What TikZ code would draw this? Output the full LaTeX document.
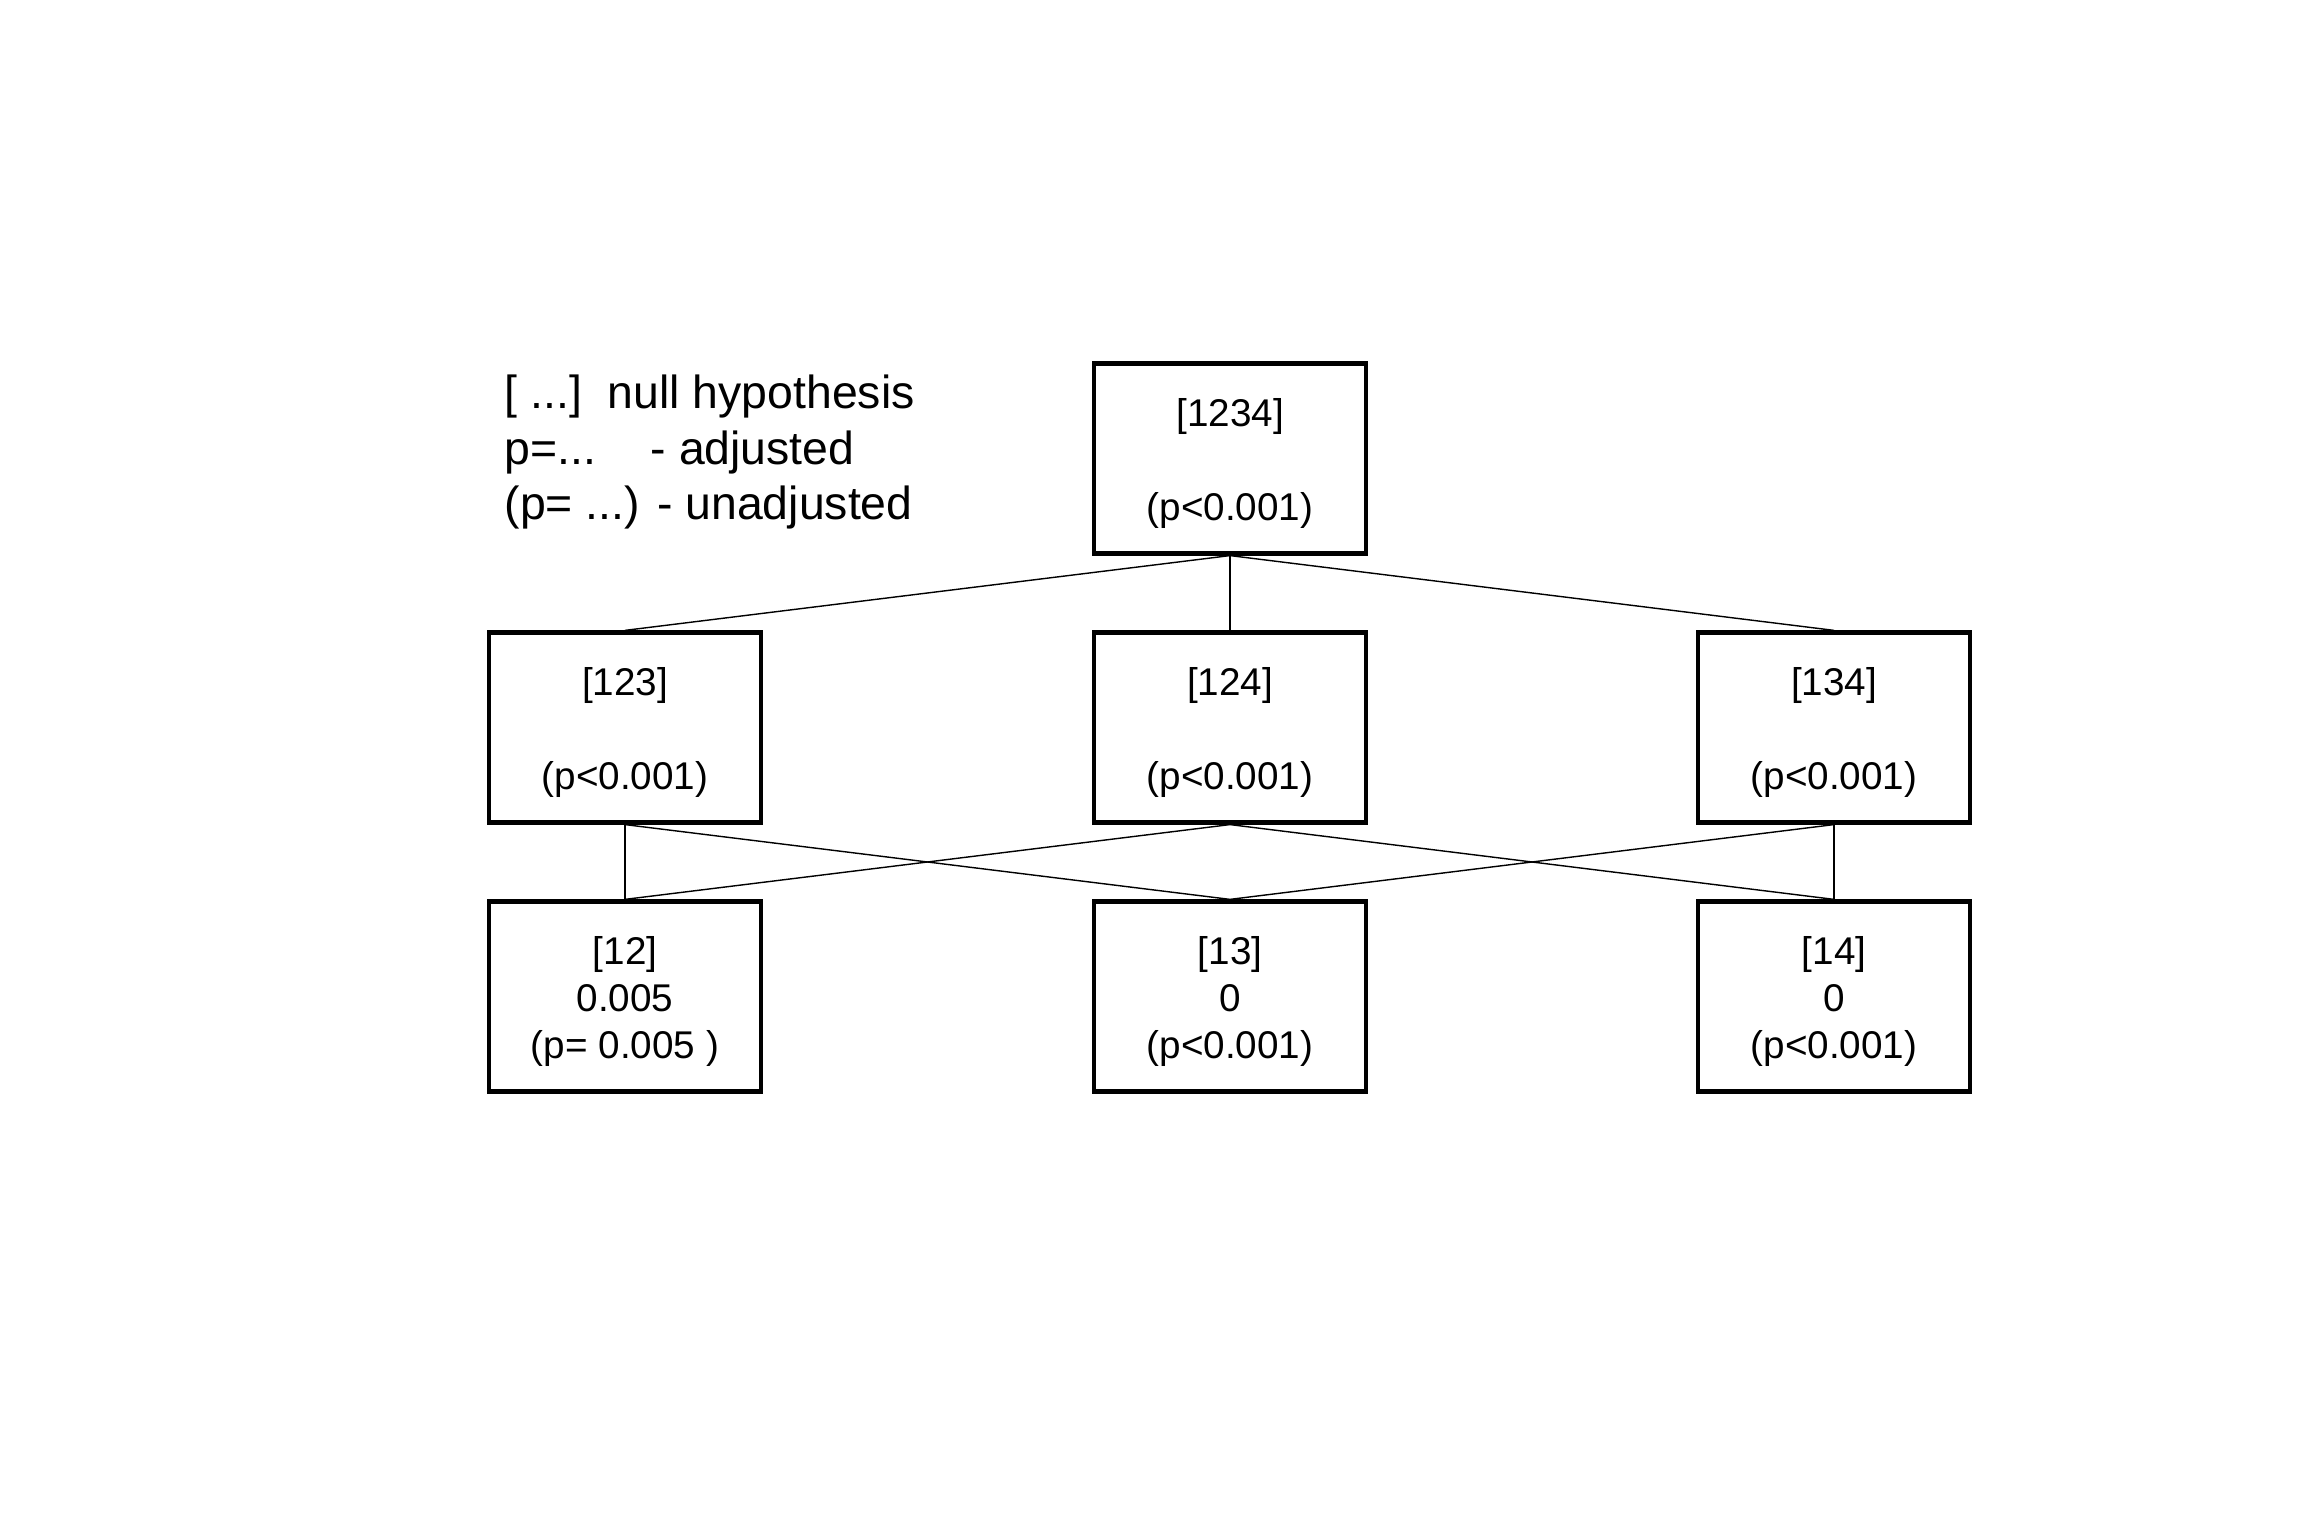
\documentclass[tikz,border=0pt]{standalone}
\usepackage{fontspec}
\setmainfont{Liberation Sans}
\usetikzlibrary{positioning}
% extra room above the first line of a hypothesis box
\newcommand{\toppad}{\rule{0pt}{3.8mm}}

\begin{document}
\begin{tikzpicture}[
    % hypothesis boxes of the closed testing tree
    hyp/.style={draw, rectangle, line width=1.2pt, align=center,
                minimum width=2.72cm, minimum height=1.90cm, inner sep=0pt,
                font=\fontsize{11}{13.5}\selectfont},
    % thin links between a hypothesis and the ones it implies
    link/.style={line width=0.4pt},
    legend/.style={anchor=base west, inner sep=0pt,
                   font=\fontsize{13.2}{16}\selectfont}
]

% page size and margins
\useasboundingbox[fill=white] (0,0) rectangle (23.04,15.36);

% Legend
\node[legend] (legnull) at (5.04, 11.27) {[ ...]~~null hypothesis};
\node[legend] (legadj) at (5.04, 10.71) {\makebox[1.46cm][l]{p=...}- adjusted};
\node[legend] (legunadj) at (5.04, 10.16) {(p= ...) - unadjusted};

% Top level
\node[hyp] (h1234) at (12.30, 10.775) {\toppad[1234]\\ ~ \\(p<0.001)};

% Second level
\node[hyp] (h123) at (6.25, 8.085) {\toppad[123]\\ ~ \\(p<0.001)};
\node[hyp] (h124) at (12.30, 8.085) {\toppad[124]\\ ~ \\(p<0.001)};
\node[hyp] (h134) at (18.34, 8.085) {\toppad[134]\\ ~ \\(p<0.001)};

% Third level
\node[hyp] (h12) at (6.25, 5.395) {\toppad[12]\\0.005\\(p= 0.005 )};
\node[hyp] (h13) at (12.30, 5.395) {\toppad[13]\\0\\(p<0.001)};
\node[hyp] (h14) at (18.34, 5.395) {\toppad[14]\\0\\(p<0.001)};

% Links top -> second level
\draw[link] (h1234.south) -- (h123.north);
\draw[link] (h1234.south) -- (h124.north);
\draw[link] (h1234.south) -- (h134.north);

% Links second -> third level
\draw[link] (h123.south) -- (h12.north);
\draw[link] (h123.south) -- (h13.north);
\draw[link] (h124.south) -- (h12.north);
\draw[link] (h124.south) -- (h14.north);
\draw[link] (h134.south) -- (h13.north);
\draw[link] (h134.south) -- (h14.north);

\end{tikzpicture}
\end{document}
